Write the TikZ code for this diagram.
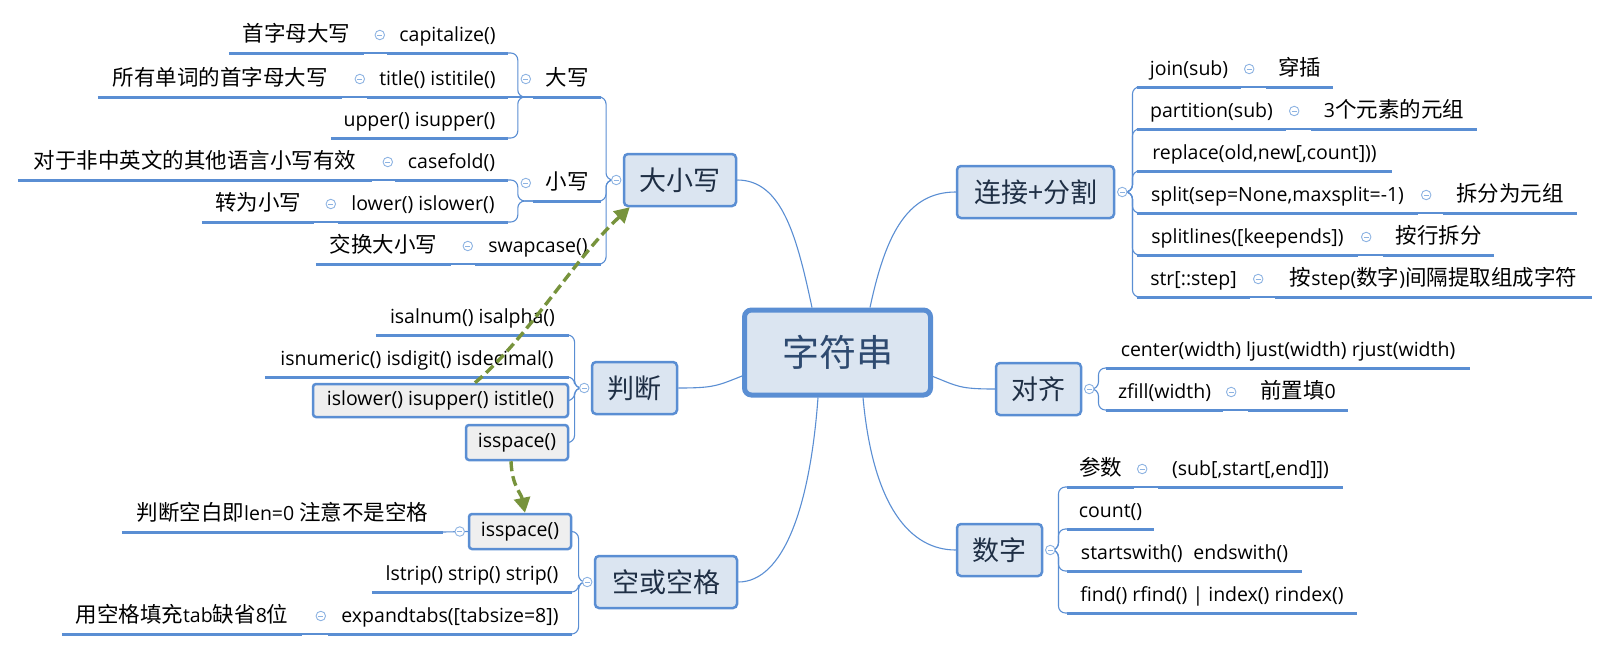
\documentclass[tikz,border=0pt]{standalone}
\usepackage{fontspec}
\setmainfont{Open Sans}
\newfontfamily\cjk{Noto Sans CJK SC}
\usetikzlibrary{arrows.meta}
\pgfdeclarelayer{bg}
\pgfsetlayers{bg,main}
\definecolor{xblue}{HTML}{5A8ED3}
\definecolor{xfill}{HTML}{DBE5F1}
\definecolor{xgray}{HTML}{EFEFEF}
\definecolor{xicon}{HTML}{8DB3E2}
\definecolor{xgreen}{HTML}{77933C}
\definecolor{xtopic}{HTML}{1F2F45}
\definecolor{xcenter}{HTML}{2E4A70}
\newcommand{\zh}[1]{{\cjk\fontsize{21.5}{24}\selectfont #1}}
\tikzset{
 leaf/.style={anchor=south, inner xsep=0pt, inner ysep=0pt, text height=14pt, text depth=11pt, font=\fontsize{19.5}{22}\selectfont, text=black},
 uline/.style={draw=xblue, line width=3pt},
 conn/.style={draw=xblue, line width=1.1pt},
 brk/.style={draw=xblue, line width=1.1pt, rounded corners=7pt},
 topic/.style={draw=xblue, fill=xfill, line width=2.5pt, rounded corners=4pt, inner sep=0pt, font=\cjk\fontsize{27}{30}\selectfont, text=xtopic},
 lbox/.style={draw=xblue, fill=xgray, line width=2.5pt, rounded corners=3pt, inner sep=0pt, font=\fontsize{19.5}{22}\selectfont},
 icon/.style={circle, draw=xicon, fill=white, line width=0.9pt, minimum size=9.5pt, inner sep=0pt,
   path picture={\draw[xicon, line width=0.9pt] ([xshift=-2.5pt]path picture bounding box.center) -- ([xshift=2.5pt]path picture bounding box.center);}},
 garrow/.style={draw=xgreen, line width=3.4pt, dash pattern=on 10pt off 5pt, -{Triangle[length=15pt,width=16pt]}},
}
\newcommand{\lf}[5]{%
 \node[leaf, minimum width={#3-#2}] (#1) at ({(#2+#3)/2},#4) {#5};
 \draw[uline] (#1.south west) -- (#1.south east);}
\newcommand{\icL}[1]{\node[icon] (i-#1) at ([xshift=-7pt,yshift=18pt]#1.south west) {};}
\newcommand{\icR}[1]{\node[icon] (i-#1) at ([xshift=8pt,yshift=18pt]#1.south east) {};}
\begin{document}
\begin{tikzpicture}[x=1pt,y=-1pt]
\useasboundingbox (0,0) rectangle (1609,651);
% ---------- topics ----------
\node[topic, line width=5pt, rounded corners=7pt, minimum width=186pt, minimum height=85pt,
      font=\cjk\fontsize{37}{40}\selectfont, text=xcenter] (root) at (837.5,352.5) {字符串};
\node[topic, minimum width=112pt, minimum height=52pt] (dxx) at (680,180) {大小写};
\node[topic, minimum width=85pt, minimum height=52pt] (pd) at (634.5,388) {判断};
\node[topic, minimum width=142pt, minimum height=52pt] (kg) at (666,582) {空或空格};
\node[topic, minimum width=157pt, minimum height=52pt] (lj) at (1035.5,192) {连接+分割};
\node[topic, minimum width=85pt, minimum height=52pt] (dq) at (1038.5,389) {对齐};
\node[topic, minimum width=85pt, minimum height=52pt] (sz) at (999.5,550) {数字};
% ---------- 大小写 ----------
\lf{cap}{387}{508}{53}{capitalize()}
\lf{capc}{229}{364}{53}{\zh{首字母大写}}
\lf{tit}{367}{508}{97}{title() istitile()}
\lf{titc}{98}{342}{97}{\zh{所有单词的首字母大写}}
\lf{upp}{331}{508}{138}{upper() isupper()}
\lf{dx}{533}{601}{97}{\zh{大写}}
\lf{cf}{395}{508}{180}{casefold()}
\lf{cfc}{18}{372}{180}{\zh{对于非中英文的其他语言小写有效}}
\lf{low}{338}{508}{222}{lower() islower()}
\lf{lowc}{202}{314}{222}{\zh{转为小写}}
\lf{xx}{533}{601}{201}{\zh{小写}}
\lf{sw}{475}{601}{264}{swapcase()}
\lf{swc}{316}{451}{264}{\zh{交换大小写}}
% ---------- 判断 ----------
\lf{an}{376}{569}{335}{isalnum() isalpha()}
\lf{nu}{265}{569}{377}{isnumeric() isdigit() isdecimal()}
\node[lbox, minimum width=255pt, minimum height=33pt] (ilw) at (440.5,400.5) {islower() isupper() istitle()};
\node[lbox, minimum width=102pt, minimum height=35pt] (isp1) at (517,442.5) {isspace()};
% ---------- 空或空格 ----------
\node[lbox, minimum width=102pt, minimum height=35pt] (isp2) at (520,531.5) {isspace()};
\lf{ispc}{122}{443}{532}{\zh{判断空白即}len=0 \zh{注意不是空格}}
\lf{ls}{372}{572}{592}{lstrip() strip() strip()}
\lf{et}{328}{572}{634}{expandtabs([tabsize=8])}
\lf{etch}{62}{302}{634}{\zh{用空格填充}tab\zh{缺省}8\zh{位}}
% ---------- 连接+分割 ----------
\lf{jn}{1137}{1241}{87}{join(sub)}
\lf{jnc}{1266}{1333}{87}{\zh{穿插}}
\lf{pt}{1137}{1286}{129}{partition(sub)}
\lf{ptc}{1311}{1477}{129}{3\zh{个元素的元组}}
\lf{rp}{1137}{1392}{171}{replace(old,new[,count]))}
\lf{sp}{1137}{1418}{213}{split(sep=None,maxsplit=-1)}
\lf{spc}{1443}{1577}{213}{\zh{拆分为元组}}
\lf{sl}{1137}{1358}{255}{splitlines([keepends])}
\lf{slc}{1383}{1494}{255}{\zh{按行拆分}}
\lf{st}{1137}{1250}{297}{str[::step]}
\lf{stc}{1275}{1592}{297}{\zh{按}step(\zh{数字})\zh{间隔提取组成字符}}
% ---------- 对齐 ----------
\lf{ce}{1106}{1470}{368}{center(width) ljust(width) rjust(width)}
\lf{zf}{1106}{1223}{410}{zfill(width)}
\lf{zfch}{1248}{1348}{410}{\zh{前置填}0}
% ---------- 数字 ----------
\lf{cs}{1067}{1134}{487}{\zh{参数}}
\lf{csc}{1158}{1343}{487}{(sub[,start[,end]])}
\lf{ct}{1067}{1154}{529}{count()}
\lf{sw2}{1067}{1302}{571}{startswith()\hspace{0.55em}endswith()}
\lf{fd}{1067}{1357}{613}{find() rfind() | index() rindex()}
% ---------- icons ----------
\icL{cap}\icL{tit}\icL{dx}\icL{cf}\icL{xx}\icL{low}\icL{sw}\icL{et}
\icR{jn}\icR{pt}\icR{sp}\icR{sl}\icR{st}\icR{zf}\icR{cs}
\node[icon] (i-dxx) at ([xshift=-6.5pt]dxx.west) {};
\node[icon] (i-pd) at ([xshift=-6.5pt]pd.west) {};
\node[icon] (i-kg) at ([xshift=-6.5pt]kg.west) {};
\node[icon] (i-lj) at ([xshift=7pt]lj.east) {};
\node[icon] (i-dq) at ([xshift=7pt]dq.east) {};
\node[icon] (i-sz) at ([xshift=7pt]sz.east) {};
\node[icon] (i-isp2) at ([xshift=-8pt]isp2.west) {};
% ---------- connectors ----------
\begin{pgfonlayer}{bg}
% root to topics
\draw[conn] (dxx.east) .. controls +(45,0) and +(-15,-70) .. ([xshift=-25.5pt]root.north);
\draw[conn] (lj.west) .. controls +(-50,0) and +(15,-70) .. ([xshift=32.5pt]root.north);
\draw[conn] (pd.east) .. controls +(35,0) and +(-25,10) .. ([yshift=-23.5pt]root.west);
\draw[conn] ([yshift=-24pt]root.east) .. controls +(25,10) and +(-35,0) .. (dq.west);
\draw[conn] ([xshift=-19.5pt]root.south) .. controls +(-8,110) and +(45,0) .. (kg.east);
\draw[conn] ([xshift=25.5pt]root.south) .. controls +(10,110) and +(-45,0) .. (sz.west);
% 大小写
\draw[brk] (i-dxx.west) -- ++(-5,0) |- (dx.south east);
\draw[brk] (i-dxx.west) -- ++(-5,0) |- (xx.south east);
\draw[brk] (i-dxx.west) -- ++(-5,0) |- (sw.south east);
\draw[brk] (dx.south west) -- ++(-15,0) |- (cap.south east);
\draw[conn] (dx.south west) -- (tit.south east);
\draw[brk] (dx.south west) -- ++(-15,0) |- (upp.south east);
\draw[brk] (xx.south west) -- ++(-15,0) |- (cf.south east);
\draw[brk] (xx.south west) -- ++(-15,0) |- (low.south east);
\draw[conn] (capc.south east) -- (cap.south west);
\draw[conn] (titc.south east) -- (tit.south west);
\draw[conn] (cfc.south east) -- (cf.south west);
\draw[conn] (lowc.south east) -- (low.south west);
\draw[conn] (swc.south east) -- (sw.south west);
% 判断
\draw[brk] (i-pd.west) -- ++(-4.5,0) |- (an.south east);
\draw[brk] (i-pd.west) -- ++(-4.5,0) |- (nu.south east);
\draw[brk] (i-pd.west) -- ++(-4.5,0) |- (ilw.east);
\draw[brk] (i-pd.west) -- ++(-4.5,0) |- (isp1.east);
% 空或空格
\draw[brk] (i-kg.west) -- ++(-3.5,0) |- (isp2.east);
\draw[brk] (i-kg.west) -- ++(-3.5,0) |- (ls.south east);
\draw[brk] (i-kg.west) -- ++(-3.5,0) |- (et.south east);
\draw[conn] (ispc.south east) -- (isp2.west);
\draw[conn] (etch.south east) -- (et.south west);
% 连接+分割
\foreach \c in {jn,pt,rp,sp,sl,st}{\draw[brk] (i-lj.east) -- ++(5,0) |- (\c.south west);}
\draw[conn] (jn.south east) -- (jnc.south west);
\draw[conn] (pt.south east) -- (ptc.south west);
\draw[conn] (sp.south east) -- (spc.south west);
\draw[conn] (sl.south east) -- (slc.south west);
\draw[conn] (st.south east) -- (stc.south west);
% 对齐
\foreach \c in {ce,zf}{\draw[brk] (i-dq.east) -- ++(4,0) |- (\c.south west);}
\draw[conn] (zf.south east) -- (zfch.south west);
% 数字
\foreach \c in {cs,ct,sw2,fd}{\draw[brk] (i-sz.east) -- ++(3,0) |- (\c.south west);}
\draw[conn] (cs.south east) -- (csc.south west);
\end{pgfonlayer}
% ---------- green relation arrows ----------
\draw[garrow] ([xshift=34.5pt]ilw.north) .. controls +(53,-45) and +(-55,51) .. ([xshift=7pt]dxx.south west);
\draw[garrow] ([xshift=-6pt]isp1.south) .. controls +(1,25) and +(-4,-20) .. ([xshift=5pt]isp2.north);
\end{tikzpicture}
\end{document}
